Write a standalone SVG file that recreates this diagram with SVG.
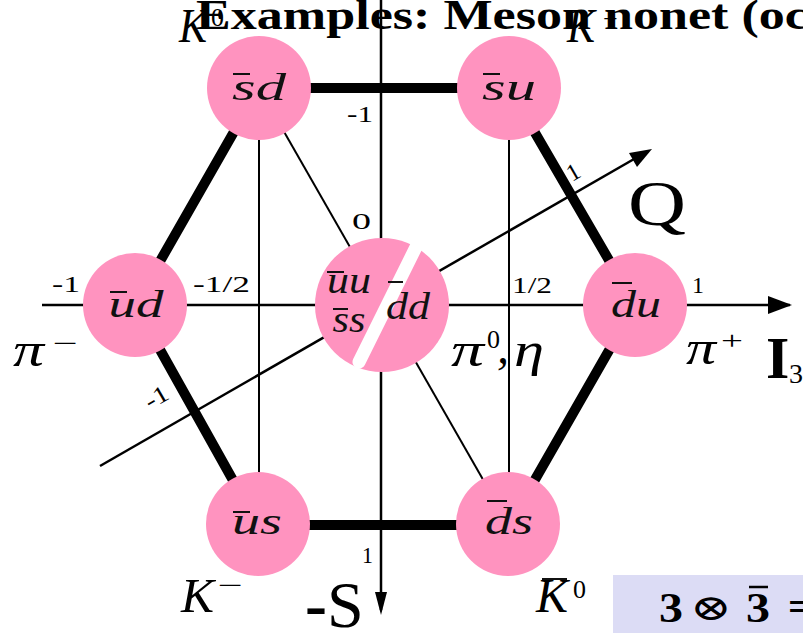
<svg xmlns="http://www.w3.org/2000/svg" width="803" height="633" viewBox="0 0 803 633">
<defs>
<style>
.nd{fill:#ff93bf}
.lbl{font-family:"Liberation Serif",serif;font-style:italic;font-size:38px;fill:#111;text-anchor:middle}
.bar{stroke:#111;stroke-width:2}
.tick{font-family:"Liberation Serif",serif;font-size:24px;fill:#000}
.big{font-family:"Liberation Serif",serif;font-style:italic;font-size:48px;fill:#000}
.sup{font-family:"Liberation Serif",serif;font-size:26px;fill:#000}
.thick{stroke:#000;stroke-width:10;fill:none}
.thin{stroke:#000;stroke-width:2;fill:none}
.axis{stroke:#000;stroke-width:2.5;fill:none}
</style>
</defs>
<rect width="803" height="633" fill="#fff"/>

<g id="connectors">
<line class="thin" x1="259" y1="88" x2="259" y2="525"/>
<line class="thin" x1="509" y1="88" x2="509" y2="525"/>
<line class="thin" x1="259" y1="88" x2="509" y2="525"/>
<polygon class="thick" points="259,88 509,88 635,305 509,525 258,525 135,305"/>
<line class="axis" x1="42" y1="305" x2="790" y2="305"/>
<polygon points="792,305 768,296 768,314" fill="#000"/>
<line class="axis" x1="381" y1="0" x2="381" y2="610"/>
<polygon points="381,615 375,592 387,592" fill="#000"/>
<line class="axis" x1="100" y1="466" x2="648" y2="151"/>
<polygon points="652,149 629,153 637,167" fill="#000"/>
</g>

<g id="ticks">
<text class="tick" x="52" y="292" textLength="28" lengthAdjust="spacingAndGlyphs">-1</text>
<text class="tick" x="193" y="292" textLength="57" lengthAdjust="spacingAndGlyphs">-1/2</text>
<text class="tick" x="512" y="293" textLength="40" lengthAdjust="spacingAndGlyphs">1/2</text>
<text class="tick" x="692" y="293" textLength="12" lengthAdjust="spacingAndGlyphs">1</text>
<text class="tick" x="347" y="122" textLength="26" lengthAdjust="spacingAndGlyphs">-1</text>
<text class="tick" x="352" y="229" textLength="19" lengthAdjust="spacingAndGlyphs">0</text>
<text class="tick" x="362" y="563" textLength="11" lengthAdjust="spacingAndGlyphs">1</text>
<text class="tick" x="572" y="182" transform="rotate(-30 572 182)" textLength="12" lengthAdjust="spacingAndGlyphs">1</text>
<text class="tick" x="150" y="410" transform="rotate(-30 150 410)" textLength="24" lengthAdjust="spacingAndGlyphs">-1</text>
</g>

<g id="node-sd">
<circle class="nd" cx="259" cy="88" r="52"/>
<text class="lbl" x="259" y="100" textLength="54" lengthAdjust="spacingAndGlyphs">sd</text>
<line class="bar" x1="233" y1="74" x2="250" y2="74"/>
</g>
<g id="node-su">
<circle class="nd" cx="509" cy="88" r="52"/>
<text class="lbl" x="509" y="100" textLength="54" lengthAdjust="spacingAndGlyphs">su</text>
<line class="bar" x1="483" y1="74" x2="500" y2="74"/>
</g>
<g id="node-ud">
<circle class="nd" cx="135" cy="305" r="52"/>
<text class="lbl" x="136" y="317" textLength="55" lengthAdjust="spacingAndGlyphs">ud</text>
<line class="bar" x1="110" y1="292" x2="127" y2="292"/>
</g>
<g id="node-du">
<circle class="nd" cx="635" cy="305" r="52"/>
<text class="lbl" x="636" y="317" textLength="50" lengthAdjust="spacingAndGlyphs">du</text>
<line class="bar" x1="612" y1="283" x2="632" y2="283"/>
</g>
<g id="node-us">
<circle class="nd" cx="258" cy="524" r="52"/>
<text class="lbl" x="257" y="534" textLength="50" lengthAdjust="spacingAndGlyphs">us</text>
<line class="bar" x1="233" y1="512" x2="250" y2="512"/>
</g>
<g id="node-ds">
<circle class="nd" cx="508" cy="524" r="52"/>
<text class="lbl" x="509" y="534" textLength="48" lengthAdjust="spacingAndGlyphs">ds</text>
<line class="bar" x1="487" y1="501" x2="507" y2="501"/>
</g>
<g id="node-center">
<circle class="nd" cx="382" cy="305" r="67"/>
<text class="lbl" x="349" y="293" textLength="44" lengthAdjust="spacingAndGlyphs">uu</text>
<line class="bar" x1="327" y1="272" x2="344" y2="272"/>
<text class="lbl" x="349" y="332" textLength="33" lengthAdjust="spacingAndGlyphs">ss</text>
<line class="bar" x1="333" y1="309" x2="348" y2="309"/>
<line x1="419" y1="241" x2="359" y2="362" stroke="#fff" stroke-width="13" stroke-linecap="round"/>
<text class="lbl" x="408" y="319" textLength="44" lengthAdjust="spacingAndGlyphs">dd</text>
<line class="bar" x1="388" y1="282" x2="403" y2="282"/>
</g>

<g id="labels">
<text class="big" x="13" y="366" textLength="31" lengthAdjust="spacingAndGlyphs">π</text>
<text class="sup" x="53" y="352" font-size="34" textLength="25" lengthAdjust="spacingAndGlyphs">−</text>
<text class="big" x="686" y="364" textLength="30" lengthAdjust="spacingAndGlyphs">π</text>
<text class="sup" x="721" y="349" font-size="32" textLength="22" lengthAdjust="spacingAndGlyphs">+</text>
<text x="766" y="378" font-family="Liberation Serif,serif" font-weight="bold" font-size="60">I</text>
<text x="789" y="383" font-family="Liberation Serif,serif" font-size="28">3</text>
<text class="big" x="451" y="366" textLength="33" lengthAdjust="spacingAndGlyphs">π</text>
<text class="sup" x="487" y="348" font-size="20">0</text>
<text class="big" x="497" y="363" font-style="normal" font-size="36">,</text>
<text class="big" x="514" y="366" textLength="30" lengthAdjust="spacingAndGlyphs">η</text>
<text x="628" y="225" font-family="Liberation Serif,serif" font-size="64" textLength="58" lengthAdjust="spacingAndGlyphs">Q</text>
<text class="big" x="181" y="612" font-size="42" textLength="33" lengthAdjust="spacingAndGlyphs">K</text>
<text class="sup" x="218" y="594" font-size="34" textLength="25" lengthAdjust="spacingAndGlyphs">−</text>
<text class="big" x="536" y="612" font-size="42" textLength="32" lengthAdjust="spacingAndGlyphs">K</text>
<line class="bar" x1="542" y1="579" x2="567" y2="579"/>
<text class="sup" x="573" y="598" font-size="20">0</text>
<text font-family="Liberation Serif,serif" font-size="66" x="305" y="627"><tspan font-weight="bold">-</tspan>S</text>
<text class="big" x="179" y="42" font-size="40" textLength="28" lengthAdjust="spacingAndGlyphs">K</text>
<text class="sup" x="211" y="26" font-size="20">0</text>
<text class="big" x="567" y="42" font-size="40" textLength="28" lengthAdjust="spacingAndGlyphs">K</text>
<text class="sup" x="603" y="27" font-size="24">+</text>
</g>

<g id="title">
<text x="196" y="29" font-family="Liberation Serif,serif" font-weight="bold" font-size="43" fill="#000" textLength="612" lengthAdjust="spacingAndGlyphs">Examples: Meson nonet (oc</text>
</g>

<g id="product">
<rect x="613" y="575" width="190" height="58" fill="#dcdcf5"/>
<text x="659" y="622" font-family="Liberation Serif,serif" font-weight="bold" font-size="42" fill="#000" textLength="24" lengthAdjust="spacingAndGlyphs">3</text>
<text x="690" y="620" font-family="DejaVu Serif,serif" font-size="36" fill="#000" textLength="42" lengthAdjust="spacingAndGlyphs">⊗</text>
<text x="746" y="622" font-family="Liberation Serif,serif" font-weight="bold" font-size="42" fill="#000" textLength="24" lengthAdjust="spacingAndGlyphs">3</text>
<line x1="749" y1="587" x2="768" y2="587" stroke="#000" stroke-width="2.5"/>
<text x="788" y="620" font-family="Liberation Serif,serif" font-weight="bold" font-size="42" fill="#000">=</text>
</g>
</svg>
